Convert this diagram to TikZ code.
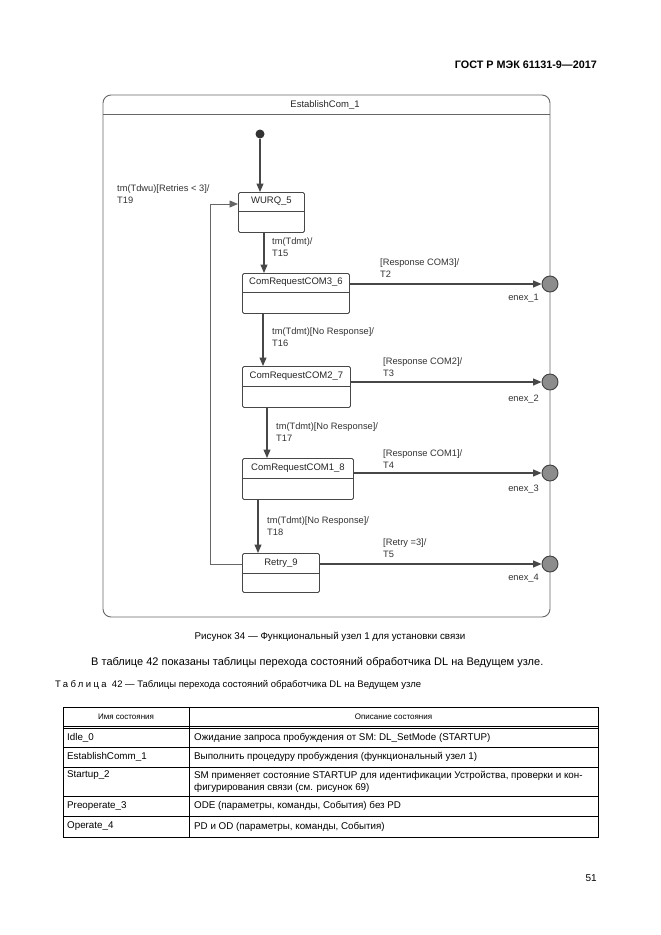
\documentclass[tikz,border=0pt]{standalone}
\usepackage{fontspec}
\setmainfont{Liberation Sans}
\usetikzlibrary{arrows.meta,calc}
\begin{document}
\begin{tikzpicture}[x=1pt,y=-1pt,
  boxln/.style={draw=black!72, line width=0.9pt},
  arr/.style={draw=black!72, line width=1.1pt, -{Triangle[length=8.5pt,width=7pt]}},
  loopln/.style={draw=black!60, line width=0.8pt, -{Triangle[length=8.5pt,width=7pt]}},
  lbl/.style={anchor=west, align=left, inner sep=0pt, font=\fontsize{9.3}{12}\selectfont, text=black!80},
  elbl/.style={anchor=east, inner sep=0pt, font=\fontsize{9.3}{12}\selectfont, text=black!80},
  sbox/.style={boxln, rounded corners=1.5pt, inner sep=0pt, anchor=north west},
  stitle/.style={inner sep=0pt, font=\fontsize{9.5}{11}\selectfont, text=black!85},
  enexs/.style={circle, draw=black!75, fill=black!45, line width=0.9pt, minimum size=16pt, inner sep=0pt},
  tline/.style={draw=black, line width=0.7pt},
  ttext/.style={anchor=west, inner sep=0pt, font=\fontsize{9.8}{12}\selectfont},
  thead/.style={inner sep=0pt, font=\fontsize{8}{10}\selectfont}]
\useasboundingbox[fill=white] (0,0) rectangle (661,935);

% page header
\node[anchor=east, inner sep=0pt, font=\fontsize{10.8}{13}\selectfont\bfseries] (hdr) at (597,65) {ГОСТ Р МЭК 61131-9—2017};

% frame
\draw[draw=black!60, line width=0.9pt, rounded corners=8pt] (103,95) rectangle (550,617);
\draw[draw=black!60, line width=0.9pt] (103,114) -- (550,114);
\node[stitle] (ftitle) at (325,105) {EstablishCom\_1};

% initial
\node[circle, fill=black!80, minimum size=9pt, inner sep=0pt] (init) at (260,134) {};

% states
\node[sbox, minimum width=66pt, minimum height=40pt] (wurq) at (238,192) {};
\draw[boxln] ($(wurq.north west)+(0,19)$) -- ($(wurq.north east)+(0,19)$);
\node[stitle] (wurqt) at ($(wurq.north)+(0,9.5)$) {WURQ\_5};

\node[sbox, minimum width=107pt, minimum height=40pt] (com3) at (242,273) {};
\draw[boxln] ($(com3.north west)+(0,19)$) -- ($(com3.north east)+(0,19)$);
\node[stitle] (com3t) at ($(com3.north)+(0,9.5)$) {ComRequestCOM3\_6};

\node[sbox, minimum width=108pt, minimum height=41pt] (com2) at (242,366) {};
\draw[boxln] ($(com2.north west)+(0,20)$) -- ($(com2.north east)+(0,20)$);
\node[stitle] (com2t) at ($(com2.north)+(0,10)$) {ComRequestCOM2\_7};

\node[sbox, minimum width=111pt, minimum height=41pt] (com1) at (242,458) {};
\draw[boxln] ($(com1.north west)+(0,20)$) -- ($(com1.north east)+(0,20)$);
\node[stitle] (com1t) at ($(com1.north)+(0,10)$) {ComRequestCOM1\_8};

\node[sbox, minimum width=77pt, minimum height=39pt] (retry) at (242,553) {};
\draw[boxln] ($(retry.north west)+(0,20)$) -- ($(retry.north east)+(0,20)$);
\node[stitle] (retryt) at ($(retry.north)+(0,10)$) {Retry\_9};

% exits
\node[enexs] (e1) at (550,284) {};
\node[enexs] (e2) at (550,382) {};
\node[enexs] (e3) at (550,473) {};
\node[enexs] (e4) at (550,564) {};
\node[elbl] (e1l) at (539,298) {enex\_1};
\node[elbl] (e2l) at (539,399) {enex\_2};
\node[elbl] (e3l) at (539,489) {enex\_3};
\node[elbl] (e4l) at (539,578) {enex\_4};

% column coordinates
\coordinate (x0) at (260,0);
\coordinate (x1) at (264,0);
\coordinate (x2) at (263,0);
\coordinate (x3) at (267,0);
\coordinate (x4) at (258,0);
\coordinate (lp) at (210,564);
\coordinate (lq) at (210,204);

% transitions
\draw[arr] (init) -- (x0 |- wurq.north);
\draw[arr] (x1 |- wurq.south) -- (x1 |- com3.north);
\draw[arr] (x2 |- com3.south) -- (x2 |- com2.north);
\draw[arr] (x3 |- com2.south) -- (x3 |- com1.north);
\draw[arr] (x4 |- com1.south) -- (x4 |- retry.north);
\draw[arr] (com3.east |- e1) -- (e1);
\draw[arr] (com2.east |- e2) -- (e2);
\draw[arr] (com1.east |- e3) -- (e3);
\draw[arr] (retry.east |- e4) -- (e4);
\draw[loopln] (retry.west |- lp) -- (lp) -- (lq) -- (wurq.west |- lq);

% labels
\node[lbl] (t19) at (117,194) {tm(Tdwu)[Retries < 3]/\\T19};
\node[lbl] (t15) at (272,247.5) {tm(Tdmt)/\\T15};
\node[lbl] (t2) at (380,268) {[Response COM3]/\\T2};
\node[lbl] (t16) at (272,337.5) {tm(Tdmt)[No Response]/\\T16};
\node[lbl] (t3) at (383,367.5) {[Response COM2]/\\T3};
\node[lbl] (t17) at (276,432) {tm(Tdmt)[No Response]/\\T17};
\node[lbl] (t4) at (383,459) {[Response COM1]/\\T4};
\node[lbl] (t18) at (267,526.5) {tm(Tdmt)[No Response]/\\T18};
\node[lbl] (t5) at (383,548.5) {[Retry =3]/\\T5};

% captions and text
\node[inner sep=0pt, font=\fontsize{9.8}{12}\selectfont] (cap) at (330,637) {Рисунок 34 — Функциональный узел 1 для установки связи};
\node[anchor=west, inner sep=0pt, font=\fontsize{11}{13}\selectfont] (body) at (91,663) {В таблице 42 показаны таблицы перехода состояний обработчика DL на Ведущем узле.};
\node[anchor=west, inner sep=0pt, font=\fontsize{9.5}{12}\selectfont] (tcap) at (55,685) {{\addfontfeature{LetterSpace=25}Таблица}\ \ 42 — Таблицы перехода состояний обработчика DL на Ведущем узле};

% table
\draw[tline] (63,707) rectangle (598,837);
\draw[tline] (189,707) -- (189,837);
\draw[tline] (63,726) -- (598,726);
\draw[tline] (63,728.5) -- (598,728.5);
\draw[tline] (63,747) -- (598,747);
\draw[tline] (63,767) -- (598,767);
\draw[tline] (63,796) -- (598,796);
\draw[tline] (63,816) -- (598,816);
\node[thead] (h1) at (126,717) {Имя состояния};
\node[thead] (h2) at (393.5,717) {Описание состояния};
\node[ttext] (r1a) at (67,737.5) {Idle\_0};
\node[ttext] (r1b) at (194,737.5) {Ожидание запроса пробуждения от SM: DL\_SetMode (STARTUP)};
\node[ttext] (r2a) at (67,757) {EstablishComm\_1};
\node[ttext] (r2b) at (194,757) {Выполнить процедуру пробуждения (функциональный узел 1)};
\node[ttext] (r3a) at (67,775.5) {Startup\_2};
\node[ttext, align=left] (r3b) at (194,781.5) {SM применяет состояние STARTUP для идентификации Устройства, проверки и кон-\\фигурирования связи (см. рисунок 69)};
\node[ttext] (r4a) at (67,806) {Preoperate\_3};
\node[ttext] (r4b) at (194,806) {ODE (параметры, команды, События) без PD};
\node[ttext] (r5a) at (67,826.5) {Operate\_4};
\node[ttext] (r5b) at (194,826.5) {PD и OD (параметры, команды, События)};

\node[anchor=east, inner sep=0pt, font=\fontsize{10}{12}\selectfont] (pg) at (597,878) {51};
\end{tikzpicture}
\end{document}
